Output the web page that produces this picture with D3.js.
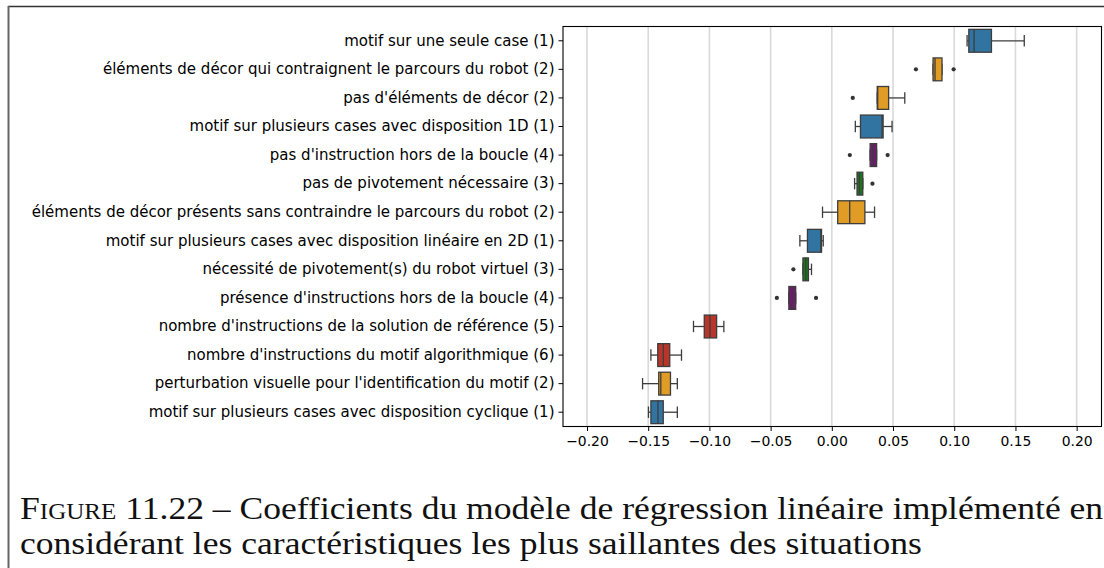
<!DOCTYPE html>
<html>
<head>
<meta charset="utf-8">
<script src="https://cdn.jsdelivr.net/npm/d3@7"></script>
<style>
  html, body { margin: 0; padding: 0; background: #fff; }
  svg { display: block; }
</style>
</head>
<body>
<svg id="chart" width="1104" height="568"></svg>
<script>
// Regression coefficients per situation characteristic (bootstrap distributions)
const categories = [
  "motif sur une seule case (1)",
  "éléments de décor qui contraignent le parcours du robot (2)",
  "pas d'éléments de décor (2)",
  "motif sur plusieurs cases avec disposition 1D (1)",
  "pas d'instruction hors de la boucle (4)",
  "pas de pivotement nécessaire (3)",
  "éléments de décor présents sans contraindre le parcours du robot (2)",
  "motif sur plusieurs cases avec disposition linéaire en 2D (1)",
  "nécessité de pivotement(s) du robot virtuel (3)",
  "présence d'instructions hors de la boucle (4)",
  "nombre d'instructions de la solution de référence (5)",
  "nombre d'instructions du motif algorithmique (6)",
  "perturbation visuelle pour l'identification du motif (2)",
  "motif sur plusieurs cases avec disposition cyclique (1)"
];
const groups      = [1, 2, 2, 1, 4, 3, 2, 1, 3, 4, 5, 6, 2, 1];
const whiskerLow  = [0.1105, 0.0827, 0.0371, 0.0192, 0.0313, 0.0186, -0.0076, -0.0261, -0.0236, -0.0351, -0.1130, -0.1478, -0.1546, -0.1498];
const q1          = [0.1119, 0.0827, 0.0371, 0.0234, 0.0313, 0.0206, 0.0048, -0.0199, -0.0236, -0.0351, -0.1042, -0.1422, -0.1414, -0.1478];
const medians     = [0.1162, 0.0843, 0.0375, 0.0410, 0.0340, 0.0225, 0.0146, -0.0090, -0.0213, -0.0323, -0.0995, -0.1377, -0.1397, -0.1420];
const q3          = [0.1304, 0.0900, 0.0464, 0.0419, 0.0366, 0.0253, 0.0270, -0.0084, -0.0191, -0.0295, -0.0941, -0.1324, -0.1318, -0.1377];
const whiskerHigh = [0.1572, 0.0900, 0.0596, 0.0492, 0.0366, 0.0253, 0.0349, -0.0070, -0.0166, -0.0295, -0.0882, -0.1228, -0.1262, -0.1262];
const outliers    = [[], [0.0687, 0.0995], [0.0171], [], [0.0147, 0.0456], [0.0332], [], [], [-0.0314], [-0.0449, -0.0129], [], [], [], []];
const xTicks      = [-0.20, -0.15, -0.10, -0.05, 0.00, 0.05, 0.10, 0.15, 0.20];
const groupColors = { 1: "#3274a1", 2: "#e09c24", 3: "#1c7420", 4: "#701a70", 5: "#b9352a", 6: "#b9352a" };
const captionLines = [
  ["Figure", " 11.22 – Coefficients du modèle de régression linéaire implémenté en"],
  ["", "considérant les caractéristiques les plus saillantes des situations"]
];

const svg = d3.select("#chart");

// Outer page frame
svg.append("line").attr("x1", 8).attr("x2", 1104).attr("y1", 6.5).attr("y2", 6.5)
  .attr("stroke", "#333").attr("stroke-width", 1.3);
svg.append("line").attr("x1", 8.5).attr("x2", 8.5).attr("y1", 6).attr("y2", 568)
  .attr("stroke", "#666").attr("stroke-width", 2);

const plot = { left: 563, right: 1101.5, top: 26.5, bottom: 426.5 };

const x = d3.scaleLinear().domain([-0.2196, 0.2203]).range([plot.left, plot.right]);
const y = d3.scaleBand().domain(categories).range([plot.top, plot.bottom]).padding(0);
const boxH = y.bandwidth() * 0.8;
const lineColor = "#3d3d3d";

// Vertical grid
svg.append("g").selectAll("line").data(xTicks).join("line")
  .attr("x1", d => x(d)).attr("x2", d => x(d))
  .attr("y1", plot.top).attr("y2", plot.bottom)
  .attr("stroke", "#d9d9d9").attr("stroke-width", 1.6);

// Axes
const fontFamily = "'DejaVu Sans', sans-serif";
const xAxis = svg.append("g").attr("transform", `translate(0,${plot.bottom})`)
  .call(d3.axisBottom(x).tickValues(xTicks).tickFormat(d => d3.format(".2f")(d).replace("-", "−")).tickSize(4.5).tickPadding(4));
const yAxis = svg.append("g").attr("transform", `translate(${plot.left},0)`)
  .call(d3.axisLeft(y).tickSize(4.5).tickPadding(4));
[xAxis, yAxis].forEach(a => {
  a.select(".domain").remove();
  a.selectAll("line").attr("stroke", "#000").attr("stroke-width", 1);
  a.selectAll("text").attr("font-family", fontFamily).attr("fill", "#000");
});
xAxis.selectAll("text").attr("font-size", "13.9px").attr("dy", "0.8em");
yAxis.selectAll("text").attr("font-size", "15px");

// Boxes
const rows = svg.append("g").selectAll("g").data(categories).join("g")
  .attr("transform", d => `translate(0,${y(d) + y.bandwidth() / 2})`);

rows.append("line")
  .attr("x1", (d, i) => x(whiskerLow[i])).attr("x2", (d, i) => x(q1[i]))
  .attr("stroke", lineColor).attr("stroke-width", 1.3);
rows.append("line")
  .attr("x1", (d, i) => x(q3[i])).attr("x2", (d, i) => x(whiskerHigh[i]))
  .attr("stroke", lineColor).attr("stroke-width", 1.3);
rows.each(function (d, i) {
  const g = d3.select(this);
  [whiskerLow[i], whiskerHigh[i]].forEach(v => {
    g.append("line").attr("x1", x(v)).attr("x2", x(v))
      .attr("y1", -boxH / 4).attr("y2", boxH / 4)
      .attr("stroke", lineColor).attr("stroke-width", 1.3);
  });
});
rows.append("rect")
  .attr("x", (d, i) => x(q1[i])).attr("width", (d, i) => Math.max(0.5, x(q3[i]) - x(q1[i])))
  .attr("y", -boxH / 2).attr("height", boxH)
  .attr("fill", (d, i) => groupColors[groups[i]])
  .attr("stroke", lineColor).attr("stroke-width", 1.3);
rows.append("line")
  .attr("x1", (d, i) => x(medians[i])).attr("x2", (d, i) => x(medians[i]))
  .attr("y1", -boxH / 2).attr("y2", boxH / 2)
  .attr("stroke", lineColor).attr("stroke-width", 1.3);
rows.each(function (d, i) {
  d3.select(this).selectAll("path.outlier").data(outliers[i]).join("path")
    .attr("class", "outlier")
    .attr("d", d3.symbol(d3.symbolCircle, 14)())
    .attr("transform", v => `translate(${x(v)},0)`)
    .attr("fill", "#333");
});

// Axes frame
svg.append("rect")
  .attr("x", plot.left).attr("y", plot.top)
  .attr("width", plot.right - plot.left).attr("height", plot.bottom - plot.top)
  .attr("fill", "none").attr("stroke", "#000").attr("stroke-width", 1.1);

// Caption
const caption = svg.append("text")
  .attr("font-family", "'Liberation Serif', 'DejaVu Serif', serif")
  .attr("font-size", "32.5px").attr("fill", "#111")
  .attr("transform", "translate(20,0) scale(1.095,1)");
captionLines.forEach((ln, k) => {
  const t = caption.append("tspan").attr("x", 0).attr("y", 519 + k * 35);
  if (ln[0]) t.append("tspan").attr("font-variant", "small-caps").text(ln[0]);
  t.append("tspan").text(ln[1]);
});
</script>
</body>
</html>
